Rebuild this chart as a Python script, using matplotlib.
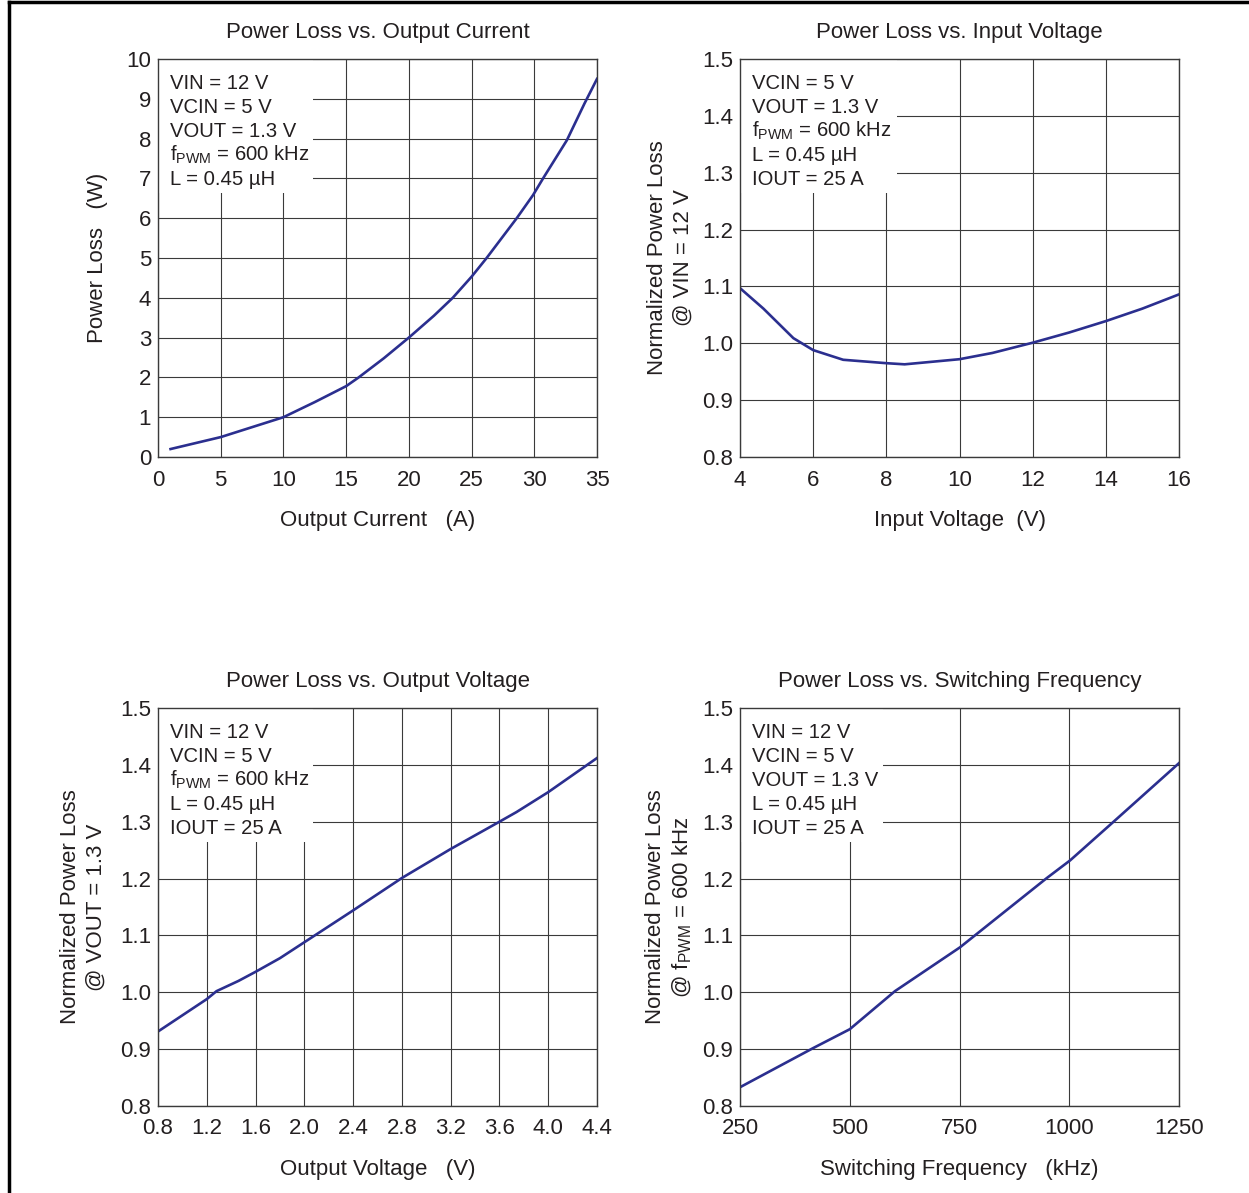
import matplotlib
matplotlib.use("Agg")
import matplotlib.pyplot as plt
from matplotlib.lines import Line2D
from matplotlib.patches import Rectangle

plt.rcParams['font.family'] = ['Liberation Sans', 'DejaVu Sans']
plt.rcParams['mathtext.fontset'] = 'custom'
plt.rcParams['mathtext.rm'] = 'Liberation Sans'
plt.rcParams['mathtext.it'] = 'Liberation Sans'

TEXT = '#231f20'
GRID = '#3a3a3a'
CURVE = '#2b2f8f'

# Power loss vs output current
iout_a = [1, 5, 7.5, 10, 12.5, 15, 16, 18, 20, 22, 23.5, 25, 26.2, 28.6, 29.9, 30.7, 32.6, 34, 35]
loss_w = [0.2, 0.5, 0.75, 1.0, 1.38, 1.78, 2.0, 2.48, 3.0, 3.55, 4.0, 4.53, 5.0, 6.0, 6.58, 7.0, 7.96, 8.88, 9.5]

# Normalized loss vs input voltage
vin_v = [4, 4.64, 5.46, 6.0, 6.82, 8.0, 8.5, 10.0, 10.9, 12.0, 13.0, 14.0, 15.0, 16.0]
norm_vin = [1.097, 1.061, 1.009, 0.988, 0.971, 0.965, 0.963, 0.972, 0.983, 1.001, 1.019, 1.039, 1.061, 1.086]

# Normalized loss vs output voltage
vout_v = [0.8, 1.2, 1.28, 1.46, 1.6, 1.8, 2.0, 2.4, 2.8, 3.2, 3.6, 3.74, 4.0, 4.4]
norm_vout = [0.931, 0.988, 1.002, 1.02, 1.036, 1.06, 1.088, 1.144, 1.201, 1.252, 1.3, 1.317, 1.352, 1.412]

# Normalized loss vs switching frequency
fsw_khz = [250, 417, 500, 603, 751, 949, 1002, 1101, 1250]
norm_fsw = [0.833, 0.902, 0.935, 1.002, 1.079, 1.201, 1.232, 1.3, 1.403]

fpwm = r'f$_{\mathrm{PWM}}$ = 600 kHz'
norm_ticks = [0.8, 0.9, 1.0, 1.1, 1.2, 1.3, 1.4, 1.5]
panels = [
    dict(pos=[158, 59], x=iout_a, y=loss_w, xlim=(0, 35), xticks=[0, 5, 10, 15, 20, 25, 30, 35], xfmt='{:g}',
         ylim=(0, 10), yticks=list(range(0, 11)), yfmt='{:g}',
         title='Power Loss vs. Output Current', xlabel='Output Current   (A)', ylabel='Power Loss   (W)', ylx=-0.114,
         box=['VIN = 12 V', 'VCIN = 5 V', 'VOUT = 1.3 V', fpwm, 'L = 0.45 µH'], boxw=155),
    dict(pos=[740, 59], x=vin_v, y=norm_vin, xlim=(4, 16), xticks=[4, 6, 8, 10, 12, 14, 16], xfmt='{:g}',
         ylim=(0.8, 1.5), yticks=norm_ticks, yfmt='{:.1f}',
         title='Power Loss vs. Input Voltage', xlabel='Input Voltage  (V)',
         ylabel='Normalized Power Loss\n@ VIN = 12 V', ylx=-0.105,
         box=['VCIN = 5 V', 'VOUT = 1.3 V', fpwm, 'L = 0.45 µH', 'IOUT = 25 A'], boxw=157),
    dict(pos=[158, 708], x=vout_v, y=norm_vout, xlim=(0.8, 4.4),
         xticks=[0.8, 1.2, 1.6, 2.0, 2.4, 2.8, 3.2, 3.6, 4.0, 4.4], xfmt='{:.1f}',
         ylim=(0.8, 1.5), yticks=norm_ticks, yfmt='{:.1f}',
         title='Power Loss vs. Output Voltage', xlabel='Output Voltage   (V)',
         ylabel='Normalized Power Loss\n@ VOUT = 1.3 V', ylx=-0.116,
         box=['VIN = 12 V', 'VCIN = 5 V', fpwm, 'L = 0.45 µH', 'IOUT = 25 A'], boxw=155),
    dict(pos=[740, 708], x=fsw_khz, y=norm_fsw, xlim=(250, 1250), xticks=[250, 500, 750, 1000, 1250], xfmt='{:g}',
         ylim=(0.8, 1.5), yticks=norm_ticks, yfmt='{:.1f}',
         title='Power Loss vs. Switching Frequency', xlabel='Switching Frequency   (kHz)',
         ylabel='Normalized Power Loss\n@ f$_{\\mathrm{PWM}}$ = 600 kHz', ylx=-0.105,
         box=['VIN = 12 V', 'VCIN = 5 V', 'VOUT = 1.3 V', 'L = 0.45 µH', 'IOUT = 25 A'], boxw=143),
]

W, H = 1249, 1193
fig = plt.figure(figsize=(W / 100, H / 100), dpi=100)
aw, ah = 439, 398

for p in panels:
    x0, y0 = p['pos']
    ax = fig.add_axes([x0 / W, 1 - (y0 + ah) / H, aw / W, ah / H])
    ax.plot(p['x'], p['y'], color=CURVE, lw=1.9, zorder=4)
    ax.set_xlim(*p['xlim'])
    ax.set_ylim(*p['ylim'])
    ax.set_xticks(p['xticks'])
    ax.set_xticklabels([p['xfmt'].format(v) for v in p['xticks']])
    ax.set_yticks(p['yticks'])
    ax.set_yticklabels([p['yfmt'].format(v) for v in p['yticks']])
    ax.tick_params(length=0, labelsize=16, labelcolor=TEXT)
    ax.tick_params(axis='x', pad=9)
    ax.tick_params(axis='y', pad=5)
    ax.grid(True, color=GRID, lw=0.8)
    for sp in ax.spines.values():
        sp.set_color(GRID)
        sp.set_linewidth(1.0)
        sp.set_zorder(5)
    ax.set_title(p['title'], fontsize=16, color=TEXT, pad=15)
    ax.set_xlabel(p['xlabel'], fontsize=16, color=TEXT)
    ax.xaxis.set_label_coords(0.5, -0.133)
    ax.set_ylabel(p['ylabel'], fontsize=16, color=TEXT, linespacing=1.29)
    ax.yaxis.set_label_coords(p['ylx'], 0.5)

    # white box with the test conditions
    ax.add_patch(Rectangle((0, 1 - 134 / ah), p['boxw'] / aw, 134 / ah, transform=ax.transAxes,
                           fc='white', ec='none', zorder=3))
    for i, line in enumerate(p['box']):
        ax.annotate(line, xy=(0, 1), xycoords='axes fraction', xytext=(12, -(30 + 24 * i)),
                    textcoords='offset pixels', fontsize=14.6, color=TEXT, ha='left', va='baseline',
                    zorder=4)

# outer frame
fig.add_artist(Line2D([8.5 / W, 1], [1 - 1.5 / H, 1 - 1.5 / H], color='black', lw=2.5, transform=fig.transFigure))
fig.add_artist(Line2D([8.5 / W, 8.5 / W], [0, 1 - 1.5 / H], color='black', lw=2.5, transform=fig.transFigure))

fig.savefig('out.png', dpi=100, facecolor='white')
